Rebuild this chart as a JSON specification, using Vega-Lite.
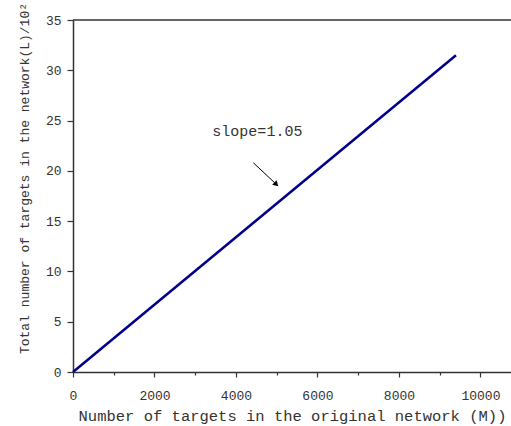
{
  "$schema": "https://vega.github.io/schema/vega-lite/v6.json",
  "width": 438,
  "height": 352,
  "autosize": {"type": "none"},
  "padding": {"left": 73, "top": 20, "right": 0, "bottom": 54},
  "background": "white",
  "config": {
    "view": {"stroke": null},
    "axis": {
      "labelFont": "Liberation Mono",
      "titleFont": "Liberation Mono",
      "labelFontSize": 13,
      "labelColor": "#333",
      "titleColor": "#333",
      "titleFontWeight": "normal",
      "domainColor": "#333",
      "domainWidth": 1.5,
      "tickColor": "#333",
      "tickWidth": 1.2,
      "labelFlush": false,
      "grid": false
    }
  },
  "datasets": {
    "series": [
      {"m": 0, "l": 0},
      {"m": 9400, "l": 31.5}
    ],
    "arrow": [
      {"m": 4427, "l": 20.8, "m2": 4991, "l2": 18.66}
    ],
    "note": [
      {"m": 4525, "l": 23.96, "text": "slope=1.05"}
    ],
    "top": [
      {"l": 35}
    ]
  },
  "layer": [
    {
      "data": {"name": "series"},
      "mark": {"type": "line", "color": "#00008B", "strokeWidth": 2.5},
      "encoding": {
        "x": {
          "field": "m", "type": "quantitative",
          "scale": {"domain": [0, 10750], "nice": false, "zero": false},
          "axis": {
            "values": [0, 1000, 2000, 3000, 4000, 5000, 6000, 7000, 8000, 9000, 10000],
            "format": "d",
            "labelExpr": "datum.value % 2000 === 0 ? datum.label : ''",
            "tickSize": {"condition": {"test": "datum.value % 2000 !== 0", "value": 3}, "value": 5},
            "labelPadding": 12,
            "title": "Number of targets in the original network (M))",
            "titleFontSize": 15.5,
            "titleY": 36
          }
        },
        "y": {
          "field": "l", "type": "quantitative",
          "scale": {"domain": [0, 35], "nice": false},
          "axis": {
            "values": [0, 2.5, 5, 7.5, 10, 12.5, 15, 17.5, 20, 22.5, 25, 27.5, 30, 32.5, 35],
            "labelExpr": "datum.value % 5 === 0 ? datum.label : ''",
            "tickSize": {"condition": {"test": "datum.value % 5 !== 0", "value": 3}, "value": 6},
            "labelPadding": 6,
            "title": "Total number of targets in the network(L)/10²",
            "titleFontSize": 13,
            "titleY": 158,
            "titleX": -42
          }
        }
      }
    },
    {
      "data": {"name": "top"},
      "mark": {"type": "rule", "color": "#333", "strokeWidth": 1.5},
      "encoding": {"y": {"field": "l", "type": "quantitative"}}
    },
    {
      "data": {"name": "arrow"},
      "mark": {"type": "rule", "color": "black", "strokeWidth": 1},
      "encoding": {
        "x": {"field": "m", "type": "quantitative"},
        "y": {"field": "l", "type": "quantitative"},
        "x2": {"field": "m2"},
        "y2": {"field": "l2"}
      }
    },
    {
      "data": {"name": "arrow"},
      "mark": {"type": "point", "shape": "triangle-right", "filled": true, "color": "black", "size": 40, "angle": 43, "opacity": 1},
      "encoding": {
        "x": {"field": "m2", "type": "quantitative"},
        "y": {"field": "l2", "type": "quantitative"}
      }
    },
    {
      "data": {"name": "note"},
      "mark": {"type": "text", "font": "Liberation Mono", "fontSize": 15, "color": "#333", "align": "center", "baseline": "middle"},
      "encoding": {
        "x": {"field": "m", "type": "quantitative"},
        "y": {"field": "l", "type": "quantitative"},
        "text": {"field": "text"}
      }
    }
  ]
}
